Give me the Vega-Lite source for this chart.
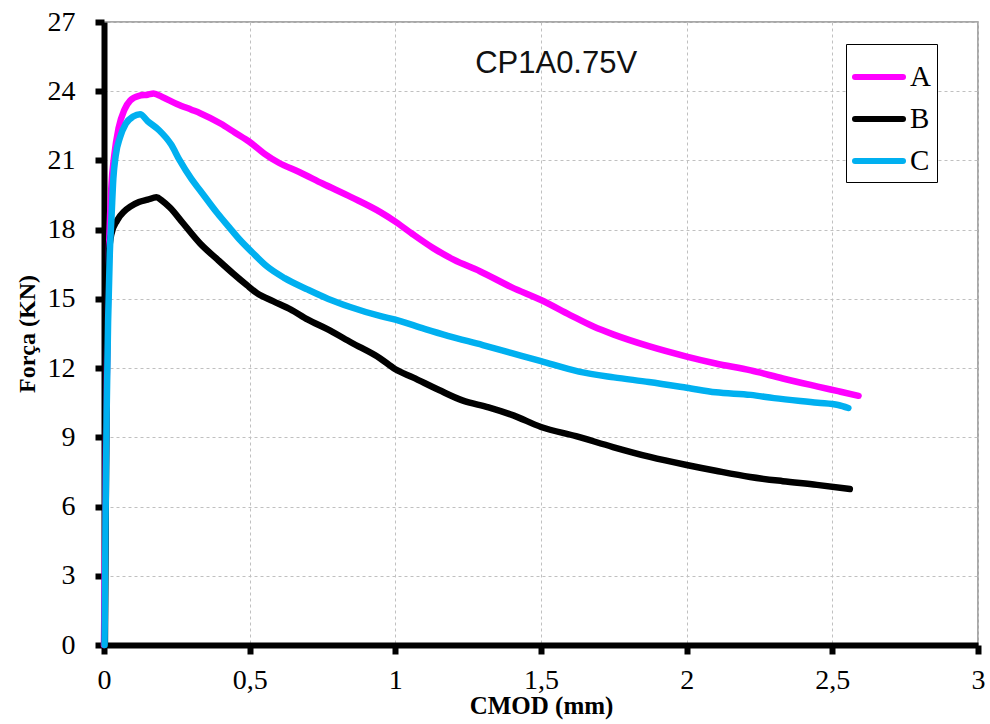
{
  "$schema": "https://vega.github.io/schema/vega-lite/v6.json",
  "width": 874,
  "height": 623,
  "autosize": {"type": "none"},
  "padding": {"left": 104, "top": 22, "right": 12, "bottom": 79},
  "background": "white",
  "config": {"view": {"stroke": "#8c8c8c", "strokeWidth": 1.5}},
  "layer": [
    {
      "data": {
        "values": [
          {"s": "A", "x": 0, "y": 0}, {"s": "A", "x": 0.004, "y": 5}, {"s": "A", "x": 0.008, "y": 10}, {"s": "A", "x": 0.012, "y": 14}, {"s": "A", "x": 0.018, "y": 17.5}, {"s": "A", "x": 0.025, "y": 19.8}, {"s": "A", "x": 0.035, "y": 21.2}, {"s": "A", "x": 0.05, "y": 22.4}, {"s": "A", "x": 0.07, "y": 23.2}, {"s": "A", "x": 0.09, "y": 23.6}, {"s": "A", "x": 0.12, "y": 23.8}, {"s": "A", "x": 0.15, "y": 23.85}, {"s": "A", "x": 0.17, "y": 23.9}, {"s": "A", "x": 0.2, "y": 23.75}, {"s": "A", "x": 0.25, "y": 23.45}, {"s": "A", "x": 0.3, "y": 23.2}, {"s": "A", "x": 0.33, "y": 23.05}, {"s": "A", "x": 0.4, "y": 22.6}, {"s": "A", "x": 0.45, "y": 22.2}, {"s": "A", "x": 0.5, "y": 21.8}, {"s": "A", "x": 0.55, "y": 21.3}, {"s": "A", "x": 0.6, "y": 20.9}, {"s": "A", "x": 0.67, "y": 20.5}, {"s": "A", "x": 0.75, "y": 20.0}, {"s": "A", "x": 0.85, "y": 19.4}, {"s": "A", "x": 0.95, "y": 18.75}, {"s": "A", "x": 1.0, "y": 18.35}, {"s": "A", "x": 1.06, "y": 17.8}, {"s": "A", "x": 1.13, "y": 17.2}, {"s": "A", "x": 1.2, "y": 16.7}, {"s": "A", "x": 1.29, "y": 16.2}, {"s": "A", "x": 1.4, "y": 15.5}, {"s": "A", "x": 1.5, "y": 14.95}, {"s": "A", "x": 1.6, "y": 14.3}, {"s": "A", "x": 1.68, "y": 13.8}, {"s": "A", "x": 1.75, "y": 13.45}, {"s": "A", "x": 1.87, "y": 12.95}, {"s": "A", "x": 2.0, "y": 12.5}, {"s": "A", "x": 2.1, "y": 12.2}, {"s": "A", "x": 2.22, "y": 11.9}, {"s": "A", "x": 2.33, "y": 11.55}, {"s": "A", "x": 2.45, "y": 11.2}, {"s": "A", "x": 2.52, "y": 11.0}, {"s": "A", "x": 2.59, "y": 10.8},
          {"s": "B", "x": 0.003, "y": 0}, {"s": "B", "x": 0.006, "y": 6}, {"s": "B", "x": 0.009, "y": 11}, {"s": "B", "x": 0.012, "y": 15}, {"s": "B", "x": 0.016, "y": 16.8}, {"s": "B", "x": 0.025, "y": 17.8}, {"s": "B", "x": 0.045, "y": 18.4}, {"s": "B", "x": 0.07, "y": 18.8}, {"s": "B", "x": 0.09, "y": 19.0}, {"s": "B", "x": 0.12, "y": 19.2}, {"s": "B", "x": 0.15, "y": 19.3}, {"s": "B", "x": 0.18, "y": 19.4}, {"s": "B", "x": 0.2, "y": 19.25}, {"s": "B", "x": 0.227, "y": 18.95}, {"s": "B", "x": 0.27, "y": 18.3}, {"s": "B", "x": 0.33, "y": 17.4}, {"s": "B", "x": 0.39, "y": 16.7}, {"s": "B", "x": 0.443, "y": 16.1}, {"s": "B", "x": 0.49, "y": 15.6}, {"s": "B", "x": 0.525, "y": 15.25}, {"s": "B", "x": 0.58, "y": 14.9}, {"s": "B", "x": 0.64, "y": 14.55}, {"s": "B", "x": 0.7, "y": 14.1}, {"s": "B", "x": 0.765, "y": 13.7}, {"s": "B", "x": 0.85, "y": 13.1}, {"s": "B", "x": 0.947, "y": 12.43}, {"s": "B", "x": 1.0, "y": 11.95}, {"s": "B", "x": 1.06, "y": 11.6}, {"s": "B", "x": 1.15, "y": 11.05}, {"s": "B", "x": 1.23, "y": 10.6}, {"s": "B", "x": 1.32, "y": 10.3}, {"s": "B", "x": 1.405, "y": 9.95}, {"s": "B", "x": 1.5, "y": 9.45}, {"s": "B", "x": 1.62, "y": 9.05}, {"s": "B", "x": 1.747, "y": 8.58}, {"s": "B", "x": 1.874, "y": 8.15}, {"s": "B", "x": 2.0, "y": 7.8}, {"s": "B", "x": 2.1, "y": 7.55}, {"s": "B", "x": 2.218, "y": 7.28}, {"s": "B", "x": 2.33, "y": 7.1}, {"s": "B", "x": 2.447, "y": 6.94}, {"s": "B", "x": 2.56, "y": 6.76},
          {"s": "C", "x": 0.002, "y": 0}, {"s": "C", "x": 0.005, "y": 5}, {"s": "C", "x": 0.009, "y": 10}, {"s": "C", "x": 0.014, "y": 14}, {"s": "C", "x": 0.02, "y": 17}, {"s": "C", "x": 0.026, "y": 18.6}, {"s": "C", "x": 0.032, "y": 20.2}, {"s": "C", "x": 0.04, "y": 21.2}, {"s": "C", "x": 0.055, "y": 22.0}, {"s": "C", "x": 0.075, "y": 22.6}, {"s": "C", "x": 0.1, "y": 22.9}, {"s": "C", "x": 0.124, "y": 23.0}, {"s": "C", "x": 0.15, "y": 22.7}, {"s": "C", "x": 0.19, "y": 22.3}, {"s": "C", "x": 0.23, "y": 21.7}, {"s": "C", "x": 0.26, "y": 21.0}, {"s": "C", "x": 0.3, "y": 20.2}, {"s": "C", "x": 0.33, "y": 19.7}, {"s": "C", "x": 0.39, "y": 18.7}, {"s": "C", "x": 0.43, "y": 18.1}, {"s": "C", "x": 0.467, "y": 17.55}, {"s": "C", "x": 0.51, "y": 17.0}, {"s": "C", "x": 0.56, "y": 16.4}, {"s": "C", "x": 0.62, "y": 15.9}, {"s": "C", "x": 0.7, "y": 15.4}, {"s": "C", "x": 0.77, "y": 15.0}, {"s": "C", "x": 0.845, "y": 14.65}, {"s": "C", "x": 0.95, "y": 14.25}, {"s": "C", "x": 1.0, "y": 14.1}, {"s": "C", "x": 1.1, "y": 13.7}, {"s": "C", "x": 1.18, "y": 13.4}, {"s": "C", "x": 1.3, "y": 13.0}, {"s": "C", "x": 1.4, "y": 12.65}, {"s": "C", "x": 1.5, "y": 12.3}, {"s": "C", "x": 1.63, "y": 11.85}, {"s": "C", "x": 1.75, "y": 11.6}, {"s": "C", "x": 1.87, "y": 11.4}, {"s": "C", "x": 2.0, "y": 11.15}, {"s": "C", "x": 2.1, "y": 10.95}, {"s": "C", "x": 2.22, "y": 10.84}, {"s": "C", "x": 2.3, "y": 10.7}, {"s": "C", "x": 2.45, "y": 10.5}, {"s": "C", "x": 2.52, "y": 10.4}, {"s": "C", "x": 2.555, "y": 10.27}
        ]
      },
      "mark": {"type": "line", "strokeWidth": 6.5, "strokeCap": "round", "strokeJoin": "round", "interpolate": "monotone"},
      "encoding": {
        "x": {
          "field": "x", "type": "quantitative",
          "scale": {"domain": [0, 3], "nice": false},
          "axis": {
            "values": [0, 0.5, 1, 1.5, 2, 2.5, 3],
            "labelExpr": "replace(format(datum.value, '~g'), '.', ',')",
            "title": "CMOD (mm)",
            "titleFont": "Liberation Serif", "titleFontWeight": "bold", "titleFontSize": 25, "titleColor": "black", "titlePadding": -1,
            "labelFont": "Liberation Serif", "labelFontSize": 28, "labelColor": "black", "labelPadding": 12, "labelFlush": false,
            "domainColor": "black", "domainWidth": 6,
            "tickColor": "black", "tickWidth": 6, "tickSize": 9,
            "grid": true, "gridColor": "#c0c0c0", "gridDash": [3, 3], "gridWidth": 1
          }
        },
        "y": {
          "field": "y", "type": "quantitative",
          "scale": {"domain": [0, 27], "nice": false},
          "axis": {
            "values": [0, 3, 6, 9, 12, 15, 18, 21, 24, 27],
            "title": "Força (KN)",
            "titleFont": "Liberation Serif", "titleFontWeight": "bold", "titleFontSize": 24, "titleColor": "black", "titlePadding": 8,
            "labelFont": "Liberation Serif", "labelFontSize": 28, "labelColor": "black", "labelPadding": 20, "labelFlush": false,
            "domainColor": "black", "domainWidth": 6,
            "tickColor": "black", "tickWidth": 6, "tickSize": 9,
            "grid": true, "gridColor": "#c0c0c0", "gridDash": [3, 3], "gridWidth": 1
          }
        },
        "color": {
          "field": "s", "type": "nominal",
          "scale": {"domain": ["A", "B", "C"], "range": ["#FF00FF", "#000000", "#00B0F0"]},
          "legend": {
            "orient": "none", "legendX": 742, "legendY": 22, "title": null,
            "symbolType": "stroke", "symbolSize": 2304, "symbolStrokeWidth": 6,
            "labelFont": "Liberation Serif", "labelFontSize": 29, "labelColor": "black", "labelOffset": 4,
            "padding": 6, "rowPadding": -3,
            "strokeColor": "black", "fillColor": "white",
            "encode": {"symbols": {"update": {"strokeCap": {"value": "round"}}}}
          }
        }
      }
    },
    {
      "data": {"values": [{"x": 1.552, "y": 25.2, "t": "CP1A0.75V"}]},
      "mark": {"type": "text", "font": "Liberation Sans", "fontSize": 31, "color": "#111111", "align": "center", "baseline": "middle"},
      "encoding": {
        "x": {"field": "x", "type": "quantitative"},
        "y": {"field": "y", "type": "quantitative"},
        "text": {"field": "t"}
      }
    }
  ]
}
